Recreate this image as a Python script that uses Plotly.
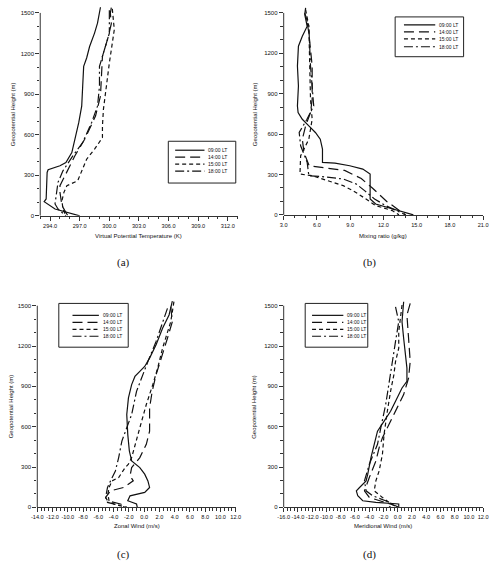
import plotly.graph_objects as go

W, H = 495, 578

series_names = ["09:00 LT", "14:00 LT", "15:00 LT", "18:00 LT"]
dash_styles = ["solid", "10px,5px", "4px,3px", "9px,3px,2px,3px"]

# ---------------- (a) Virtual potential temperature (K) ----------------
a_h_09 = [1542, 1424, 1351, 1252, 1167, 1105, 958, 811, 689, 566, 468, 395, 370, 341, 321, 125, 105, 51, 29, 0]
a_v_09 = [299.1, 298.8, 298.5, 298.0, 297.7, 297.4, 297.3, 297.2, 296.9, 296.5, 296.2, 295.6, 295.0, 293.8, 293.7, 293.6, 293.4, 294.5, 295.6, 297.0]
a_h_14 = [1540, 1498, 1420, 1326, 1179, 1032, 885, 738, 566, 443, 321, 223, 174, 76, 0]
a_v_14 = [300.2, 300.1, 300.2, 299.9, 299.3, 299.2, 299.1, 298.6, 297.5, 296.5, 295.7, 295.0, 295.0, 295.2, 295.8]
a_h_15 = [1530, 1376, 1130, 958, 787, 664, 578, 493, 419, 296, 260, 223, 174, 113, 51, 0]
a_v_15 = [300.3, 300.5, 300.0, 299.7, 299.4, 299.3, 299.3, 298.5, 297.7, 297.0, 296.8, 295.7, 295.4, 295.2, 295.3, 295.6]
a_h_18 = [1520, 1350, 1228, 1105, 958, 811, 689, 542, 443, 333, 248, 186, 88, 51, 0]
a_v_18 = [300.0, 300.0, 299.5, 299.0, 299.0, 298.8, 298.2, 297.3, 296.3, 295.3, 294.8, 294.7, 294.5, 294.8, 295.6]

# ---------------- (b) Mixing ratio (g/kg) ----------------
b_h_09 = [1537, 1488, 1401, 1327, 1253, 1105, 957, 809, 760, 710, 661, 612, 562, 488, 390, 385, 365, 340, 303, 118, 81, 44, 7, 0]
b_v_09 = [4.98, 4.9, 5.12, 4.68, 4.33, 4.24, 4.33, 4.24, 4.3, 4.68, 5.27, 5.86, 6.3, 6.5, 6.5, 7.63, 8.96, 10.14, 10.8, 10.8, 11.3, 12.8, 14.27, 14.7]
b_h_14 = [1426, 1352, 1229, 1105, 957, 858, 760, 661, 562, 464, 365, 330, 270, 200, 100, 30, 0]
b_v_14 = [5.12, 5.27, 5.42, 5.57, 5.57, 5.57, 5.42, 4.98, 4.68, 4.83, 5.3, 8.5, 10.0, 11.0, 12.3, 13.5, 14.0]
b_h_15 = [1525, 1401, 858, 710, 562, 488, 439, 303, 291, 217, 180, 118, 69, 32, 0]
b_v_15 = [4.98, 5.27, 5.42, 5.57, 5.27, 4.83, 4.53, 4.47, 5.57, 8.37, 9.25, 10.43, 11.3, 12.8, 13.4]
b_h_18 = [1500, 1401, 1105, 908, 809, 710, 612, 513, 390, 291, 286, 266, 229, 180, 118, 69, 20, 0]
b_v_18 = [4.9, 5.27, 5.42, 5.57, 5.71, 5.1, 4.4, 4.53, 5.12, 5.27, 6.3, 8.4, 9.55, 10.3, 11.2, 12.2, 13.4, 14.0]

# ---------------- (c) Zonal wind (m/s) ----------------
c_h_09 = [1534, 1431, 1332, 1209, 1110, 1048, 1011, 974, 913, 814, 691, 543, 419, 345, 296, 247, 197, 148, 111, 86, 49, 37, 25, 0]
c_v_09 = [3.69, 3.26, 2.41, 1.56, 0.71, 0.07, -0.57, -1.21, -1.64, -2.06, -2.28, -2.15, -1.94, -1.64, -0.57, 0.07, 0.49, 0.71, 0.07, -1.85, -2.15, -1.64, -1.0, -0.9]
c_h_14 = [1492, 1381, 1258, 1135, 987, 863, 740, 567, 469, 370, 296, 234, 197, 148, 123, 74, 49, 25, 0]
c_v_14 = [3.48, 3.69, 3.05, 2.41, 1.56, 1.05, 0.71, 0.71, 0.28, -0.57, -1.64, -1.85, -1.43, -2.7, -4.4, -5.05, -4.8, -3.1, -2.28]
c_h_15 = [1530, 1381, 1184, 1036, 913, 765, 592, 469, 370, 321, 296, 222, 197, 148, 99, 49, 25, 0]
c_v_15 = [3.9, 3.48, 2.41, 1.77, 1.13, 0.28, -0.57, -1.21, -1.64, -2.06, -2.49, -3.34, -4.2, -4.6, -4.75, -4.6, -4.0, -2.28]
c_h_18 = [1480, 1381, 1234, 1085, 962, 863, 691, 592, 493, 370, 271, 197, 148, 74, 37, 12, 0]
c_v_18 = [3.05, 2.41, 1.56, 0.49, -0.36, -1.0, -1.64, -2.28, -2.92, -3.34, -3.77, -4.4, -4.8, -5.05, -4.8, -3.1, -2.5]

# ---------------- (d) Meridional wind (m/s) ----------------
d_h_09 = [1530, 1381, 1258, 1135, 1036, 937, 888, 789, 715, 641, 567, 469, 370, 247, 197, 148, 123, 86, 49, 37, 30, 25, 0]
d_v_09 = [0.84, 0.61, 0.84, 1.07, 1.3, 1.3, 0.61, -0.3, -1.0, -1.9, -2.83, -3.29, -3.75, -4.2, -4.43, -5.35, -5.8, -5.6, -4.9, -3.06, -1.2, 0.15, 0.15]
d_h_14 = [1517, 1431, 1258, 1085, 962, 839, 740, 641, 518, 444, 345, 222, 123, 74, 37, 12, 0]
d_v_14 = [1.76, 1.3, 1.53, 1.76, 1.53, 0.84, -0.08, -1.0, -2.14, -2.6, -3.06, -3.98, -4.66, -3.98, -1.7, -0.3, 0.15]
d_h_15 = [1505, 1307, 1184, 1085, 987, 863, 715, 543, 395, 271, 197, 123, 74, 37, 0]
d_v_15 = [0.61, 0.15, 0.15, -0.3, -0.53, -1.0, -1.45, -1.91, -2.14, -2.6, -3.06, -3.29, -2.14, -1.22, -0.08]
d_h_18 = [1492, 1381, 1234, 1085, 937, 765, 592, 469, 321, 197, 123, 86, 49, 25, 0]
d_v_18 = [-0.3, 0.15, -0.3, -0.76, -1.22, -1.68, -2.37, -2.83, -3.98, -4.66, -4.43, -3.5, -1.7, -0.76, -1.2]

y_ticks = [0, 300, 600, 900, 1200, 1500]
a_xticks = [294, 297, 300, 303, 306, 309, 312]
b_xticks = [3, 6, 9, 12, 15, 18, 21]
c_xticks = list(range(-14, 13, 2))
d_xticks = list(range(-16, 13, 2))

x_titles = ["Virtual Potential Temperature (K)", "Mixing ratio (g/kg)", "Zonal Wind (m/s)", "Meridional Wind (m/s)"]
y_title = "Geopotential Height (m)"
panel_tags = ["(a)", "(b)", "(c)", "(d)"]

panels = [
    dict(h=[a_h_09, a_h_14, a_h_15, a_h_18], v=[a_v_09, a_v_14, a_v_15, a_v_18],
         xr=[293, 313], xt=a_xticks, minor=1,
         px=(35, 237), py=(4.84, 217),
         leg=(166, 235, 142, 184), legline=(173, 203), legy=[151, 158, 165, 172],
         xt_y=237, yt_x=7, tag=(120, 264)),
    dict(h=[b_h_09, b_h_14, b_h_15, b_h_18], v=[b_v_09, b_v_14, b_v_15, b_v_18],
         xr=[3, 21], xt=b_xticks, minor=1,
         px=(284, 488), py=(4.88, 216),
         leg=(398, 468, 17, 57), legline=(407, 439), legy=[25, 32, 39, 47],
         xt_y=237, yt_x=254, tag=(372, 264)),
    dict(h=[c_h_09, c_h_14, c_h_15, c_h_18], v=[c_v_09, c_v_14, c_v_15, c_v_18],
         xr=[-14, 12], xt=c_xticks, minor=0.5,
         px=(32, 235), py=(299.2, 510),
         leg=(54, 125, 305, 349), legline=(68, 95), legy=[317, 324, 331, 338],
         xt_y=529, yt_x=6, tag=(120, 557)),
    dict(h=[d_h_09, d_h_14, d_h_15, d_h_18], v=[d_v_09, d_v_14, d_v_15, d_v_18],
         xr=[-16, 12], xt=d_xticks, minor=0.5,
         px=(284, 488), py=(299.2, 510),
         leg=(306, 370, 305, 349), legline=(313, 345), legy=[317, 324, 331, 338],
         xt_y=529, yt_x=254, tag=(372, 557)),
]

def fx(p):
    return p / W

def fy(p):
    return 1 - p / H

fig = go.Figure()
shapes = []
annotations = []
axis_color = "#333333"
y_tick_font = dict(family="Liberation Sans, Arial, sans-serif", size=6, color="#111111")
x_tick_font = dict(family="Liberation Sans Narrow, Liberation Sans, Arial, sans-serif", size=5.6, color="#111111")

for i, p in enumerate(panels):
    n = "" if i == 0 else str(i + 1)
    xa, ya = "x" + n, "y" + n
    for k in range(4):
        fig.add_trace(go.Scatter(
            x=p["v"][k], y=p["h"][k], mode="lines", name=series_names[k],
            xaxis=xa, yaxis=ya, showlegend=False,
            line=dict(color="#111111", width=1.2, dash=dash_styles[k]),
        ))
    fig.layout["xaxis" + n] = dict(
        domain=[fx(p["px"][0]), fx(p["px"][1])], anchor=ya, range=p["xr"],
        showgrid=False, zeroline=False, showline=True, linecolor=axis_color, linewidth=1,
        ticks="outside", ticklen=4, tickcolor=axis_color, tickwidth=1,
        tickvals=p["xt"], ticktext=[f"{t:.1f}" for t in p["xt"]],
        tickfont=x_tick_font, tickangle=0,
        minor=dict(dtick=p["minor"], tick0=p["xr"][0], ticks="outside", ticklen=2.5,
                   tickcolor=axis_color, tickwidth=1, showgrid=False),
    )
    fig.layout["yaxis" + n] = dict(
        domain=[fy(p["py"][1]), fy(p["py"][0])], anchor=xa, range=[0, 1560],
        showgrid=False, zeroline=False, showline=False,
        ticks="outside", ticklen=4, tickcolor=axis_color, tickwidth=1,
        tickvals=y_ticks, ticktext=[str(t) for t in y_ticks],
        tickfont=y_tick_font,
        minor=dict(dtick=100, tick0=0, ticks="outside", ticklen=2.5,
                   tickcolor=axis_color, tickwidth=1, showgrid=False),
    )
    # left axis line only up to 1500 m
    shapes.append(dict(type="line", xref=xa + " domain", yref=ya, x0=0, x1=0, y0=0, y1=1500,
                       line=dict(color=axis_color, width=1)))
    # legend box
    lx0, lx1, ly0, ly1 = p["leg"]
    shapes.append(dict(type="rect", xref="paper", yref="paper",
                       x0=fx(lx0), x1=fx(lx1), y0=fy(ly1), y1=fy(ly0),
                       line=dict(color="#222222", width=1), fillcolor="white"))
    for k in range(4):
        yy = fy(p["legy"][k])
        shapes.append(dict(type="line", xref="paper", yref="paper",
                           x0=fx(p["legline"][0]), x1=fx(p["legline"][1]), y0=yy, y1=yy,
                           line=dict(color="#111111", width=1.2, dash=dash_styles[k])))
        annotations.append(dict(text=series_names[k], xref="paper", yref="paper",
                                x=fx(p["legline"][1] + 2), y=yy, xanchor="left", yanchor="middle",
                                showarrow=False, font=dict(family="Liberation Sans, Arial", size=5, color="#111111")))
    # axis titles
    annotations.append(dict(text=x_titles[i], xref="paper", yref="paper",
                            x=fx((p["px"][0] + p["px"][1]) / 2), y=fy(p["xt_y"]),
                            xanchor="center", yanchor="middle", showarrow=False,
                            font=dict(family="Liberation Sans, Arial", size=6, color="#111111")))
    ymid = (p["py"][1] + (p["py"][0] + 8)) / 2
    annotations.append(dict(text=y_title, xref="paper", yref="paper",
                            x=fx(p["yt_x"]), y=fy(ymid), textangle=-90,
                            xanchor="center", yanchor="middle", showarrow=False,
                            font=dict(family="Liberation Sans, Arial", size=6, color="#111111")))
    # panel tag
    annotations.append(dict(text=panel_tags[i], xref="paper", yref="paper",
                            x=fx(p["tag"][0]), y=fy(p["tag"][1]),
                            xanchor="center", yanchor="middle", showarrow=False,
                            font=dict(family="Liberation Serif, Times New Roman, serif", size=11, color="#111111")))

fig.update_layout(
    width=W, height=H, margin=dict(l=0, r=0, t=0, b=0),
    paper_bgcolor="white", plot_bgcolor="white",
    showlegend=False, shapes=shapes, annotations=annotations,
)

fig.write_html("out.html")
